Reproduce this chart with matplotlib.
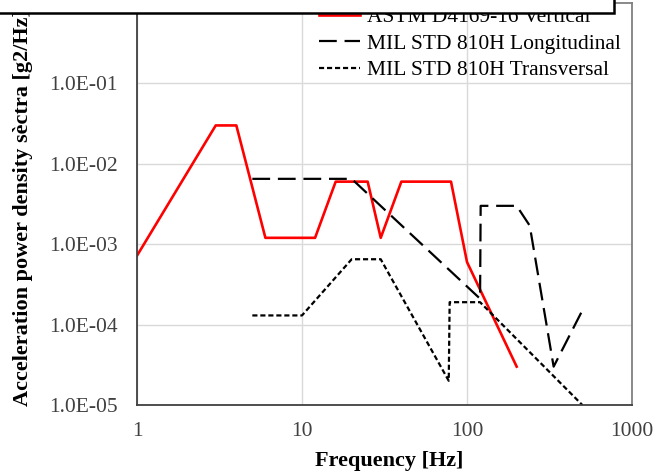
import numpy as np
import matplotlib.pyplot as plt
from matplotlib.patches import Rectangle

plt.rcParams['font.family'] = ['Liberation Serif', 'DejaVu Serif']

# ASTM D4169-16 vertical (truck)
astm_f = [1, 3, 4, 6, 12, 16, 25, 30, 40, 80, 100, 200]
astm_v = [0.00072, 0.03, 0.03, 0.0012, 0.0012, 0.006, 0.006, 0.0012, 0.006, 0.006, 0.0006, 0.00003]

# MIL STD 810H longitudinal
lon_f = [5, 20, 120, 121, 200, 240, 335, 500]
lon_v = [0.0065, 0.0065, 0.00021, 0.003, 0.003, 0.0017, 0.00003, 0.00015]

# MIL STD 810H transversal
tr_f = [5, 10, 20, 30, 77.5, 78.5, 120, 500]
tr_v = [0.00013, 0.00013, 0.00065, 0.00065, 0.00002, 0.00019, 0.00019, 0.00001]

yticks = [1e-5, 1e-4, 1e-3, 1e-2, 1e-1]
ytick_labels = ['1.0E-05', '1.0E-04', '1.0E-03', '1.0E-02', '1.0E-01']
xticks = [1, 10, 100, 1000]
xtick_labels = ['1', '10', '100', '1000']

W, H = 654, 472
fig = plt.figure(figsize=(W / 100, H / 100), dpi=100)
ax = fig.add_axes([137 / W, 1 - 405 / H, (632 - 137) / W, (405 - 3) / H])

ax.plot(astm_f, astm_v, color='#ff0000', lw=1.9, label='ASTM D4169-16 Vertical')
ax.plot(lon_f, lon_v, color='black', lw=1.6, ls=(0, (8, 3.5)), label='MIL STD 810H Longitudinal')
ax.plot(tr_f, tr_v, color='black', lw=1.6, ls=(0, (2.3, 1.3)), label='MIL STD 810H Transversal')

ax.set_xscale('log')
ax.set_yscale('log')
ax.set_xlim(1, 1000)
ax.set_ylim(1e-5, 1)
ax.set_xticks(xticks)
ax.set_xticklabels(xtick_labels)
ax.set_yticks(yticks)
ax.set_yticklabels(ytick_labels)
ax.minorticks_off()
ax.tick_params(length=0, labelsize=15.5, colors='#404040')
ax.tick_params(axis='y', pad=14)
ax.tick_params(axis='x', pad=12)
ax.grid(True, color='#d9d9d9', lw=1)
ax.set_axisbelow(True)
for s in ['left', 'bottom']:
    ax.spines[s].set_color('#404040')
    ax.spines[s].set_linewidth(1.3)
for s in ['right', 'top']:
    ax.spines[s].set_color('#808080')
    ax.spines[s].set_linewidth(1.3)

ax.set_xlabel('Frequency [Hz]', fontsize=16, fontweight='bold')
ax.xaxis.set_label_coords(0.51, -0.115)
ax.set_ylabel('Acceleration power density sèctra [g2/Hz]', fontsize=16, fontweight='bold')
ax.yaxis.set_label_coords(-0.21, 0.49)

ax.legend(loc='upper left', bbox_to_anchor=(0.368, 0.99), frameon=False, fontsize=15.5,
          handlelength=1.9, handletextpad=0.3, labelspacing=0.3, borderpad=0, borderaxespad=0)

# title box overlapping the top of the chart
fig.patches.append(Rectangle((-0.01, 1 - 13 / H), (615 + 6) / W, 0.1, transform=fig.transFigure,
                             facecolor='white', edgecolor='black', lw=1.8, zorder=10))
fig.text(295 / W, 1.014, 'Vibration Density Test Levels (Intensity)', ha='center', va='baseline',
         fontsize=15, fontweight='bold', color='#404040', zorder=11)

fig.savefig('out.png', dpi=100)
